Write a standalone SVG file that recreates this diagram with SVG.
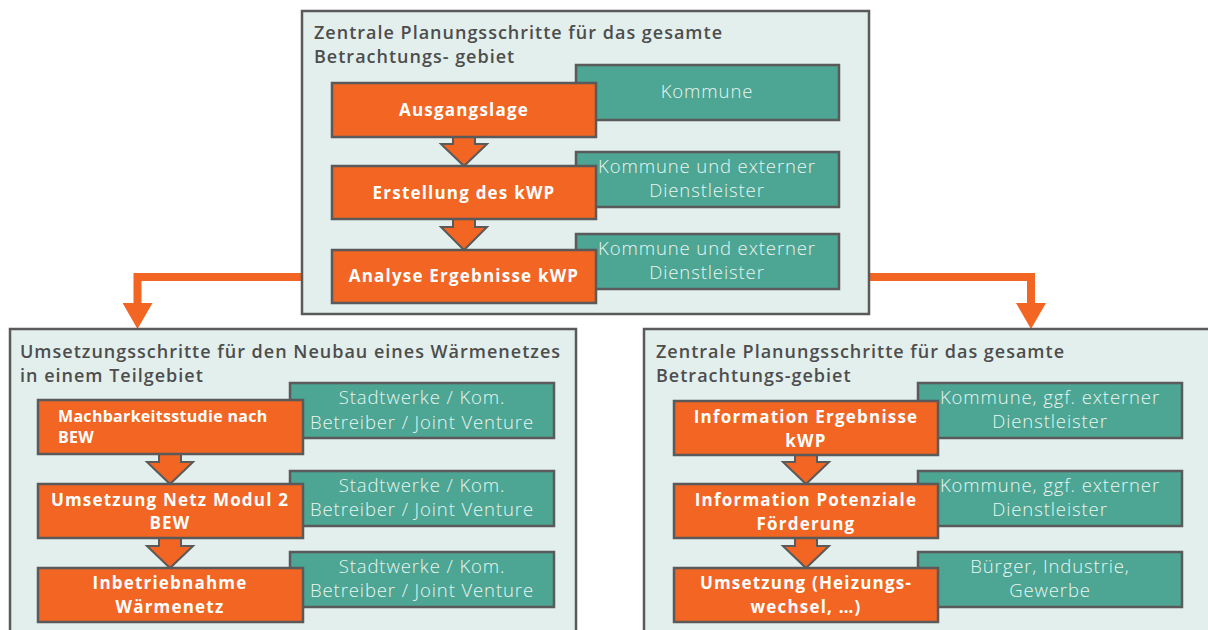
<svg xmlns="http://www.w3.org/2000/svg" width="1208" height="630" viewBox="0 0 1208 630">
<defs>
<style>
.cont{fill:#E3EFEC;stroke:#5A5A5A;stroke-width:2.5}
.step{fill:#F26522;stroke:#5A5A5A;stroke-width:2.5}
.who{fill:#4DA593;stroke:#5A5A5A;stroke-width:2.5}
.flow{fill:#F26522;stroke:#5A5A5A;stroke-width:2}
.title{font-family:"Open Sans","Noto Sans",sans-serif;font-weight:600;font-size:18px;letter-spacing:1px;fill:#4D4D4D}
.st{font-family:"Open Sans","Noto Sans",sans-serif;font-weight:700;font-size:17px;letter-spacing:1.2px;fill:#FFFFFF;text-anchor:middle}
.stl{font-family:"Open Sans","Noto Sans",sans-serif;font-weight:700;font-size:16px;letter-spacing:0.3px;fill:#FFFFFF}
.wt{font-family:"Open Sans","Noto Sans",sans-serif;font-weight:300;font-size:18.5px;letter-spacing:0.9px;fill:#EAF5F2;text-anchor:middle}
.conn{fill:none;stroke:#F26522;stroke-width:8}
</style>
<marker id="ah" markerUnits="userSpaceOnUse" markerWidth="26" markerHeight="30" viewBox="0 0 26 30" refX="1" refY="15" orient="auto">
<path d="M0,0 L26,15 L0,30 Z" fill="#F26522"/>
</marker>
</defs>

<g id="connectors">
<path class="conn" d="M303,277 H137.5 V304" marker-end="url(#ah)"/>
<path class="conn" d="M868,277 H1031 V304" marker-end="url(#ah)"/>
</g>

<g id="container-top">
<rect class="cont" x="302" y="11" width="567" height="303"/>
<text class="title" x="314" y="39">Zentrale Planungsschritte für das gesamte</text>
<text class="title" x="314" y="63">Betrachtungs- gebiet</text>
</g>
<g id="container-left">
<rect class="cont" x="10" y="329" width="566" height="312"/>
<text class="title" x="20" y="358">Umsetzungsschritte für den Neubau eines Wärmenetzes</text>
<text class="title" x="20" y="382">in einem Teilgebiet</text>
</g>
<g id="container-right">
<rect class="cont" x="644" y="329" width="572" height="312"/>
<text class="title" x="656" y="358">Zentrale Planungsschritte für das gesamte</text>
<text class="title" x="656" y="382">Betrachtungs-gebiet</text>
</g>

<!-- top column -->
<g id="who-top-1"><rect class="who" x="576" y="65" width="263" height="55"/><text class="wt" x="707" y="98">Kommune</text></g>
<g id="who-top-2"><rect class="who" x="576" y="152" width="263" height="55"/><text class="wt" x="707" y="173">Kommune und externer</text><text class="wt" x="707" y="197">Dienstleister</text></g>
<g id="who-top-3"><rect class="who" x="576" y="234" width="263" height="55"/><text class="wt" x="707" y="255">Kommune und externer</text><text class="wt" x="707" y="279">Dienstleister</text></g>
<g id="arrow-top-1"><path class="flow" d="M453,136 H475 V144 H487 L464,166 L441,144 H453 Z"/></g>
<g id="arrow-top-2"><path class="flow" d="M453,219 H475 V227 H487 L464,250 L441,227 H453 Z"/></g>
<g id="step-top-1"><rect class="step" x="332" y="83" width="264" height="54"/><text class="st" x="464" y="116">Ausgangslage</text></g>
<g id="step-top-2"><rect class="step" x="332" y="166" width="264" height="53"/><text class="st" x="464" y="199">Erstellung des kWP</text></g>
<g id="step-top-3"><rect class="step" x="332" y="250" width="264" height="53"/><text class="st" x="464" y="282">Analyse Ergebnisse kWP</text></g>

<!-- left column -->
<g id="who-left-1"><rect class="who" x="290" y="383" width="264" height="55"/><text class="wt" x="422" y="404">Stadtwerke / Kom.</text><text class="wt" x="422" y="429">Betreiber / Joint Venture</text></g>
<g id="who-left-2"><rect class="who" x="290" y="471" width="264" height="55"/><text class="wt" x="422" y="492">Stadtwerke / Kom.</text><text class="wt" x="422" y="516">Betreiber / Joint Venture</text></g>
<g id="who-left-3"><rect class="who" x="290" y="552" width="264" height="55"/><text class="wt" x="422" y="573">Stadtwerke / Kom.</text><text class="wt" x="422" y="597">Betreiber / Joint Venture</text></g>
<g id="arrow-left-1"><path class="flow" d="M159,454 H181 V462 H193 L170,484 L147,462 H159 Z"/></g>
<g id="arrow-left-2"><path class="flow" d="M159,538 H181 V546 H193 L170,568 L147,546 H159 Z"/></g>
<g id="step-left-1"><rect class="step" x="38" y="400" width="265" height="54"/><text class="stl" x="58" y="422">Machbarkeitsstudie nach</text><text class="stl" x="58" y="443">BEW</text></g>
<g id="step-left-2"><rect class="step" x="38" y="484" width="265" height="54"/><text class="st" x="170" y="506">Umsetzung Netz Modul 2</text><text class="st" x="170" y="529">BEW</text></g>
<g id="step-left-3"><rect class="step" x="38" y="568" width="265" height="54"/><text class="st" x="170" y="589">Inbetriebnahme</text><text class="st" x="170" y="613">Wärmenetz</text></g>

<!-- right column -->
<g id="who-right-1"><rect class="who" x="918" y="383" width="264" height="55"/><text class="wt" x="1050" y="404">Kommune, ggf. externer</text><text class="wt" x="1050" y="428">Dienstleister</text></g>
<g id="who-right-2"><rect class="who" x="918" y="471" width="264" height="55"/><text class="wt" x="1050" y="492">Kommune, ggf. externer</text><text class="wt" x="1050" y="516">Dienstleister</text></g>
<g id="who-right-3"><rect class="who" x="918" y="552" width="264" height="55"/><text class="wt" x="1050" y="573">Bürger, Industrie,</text><text class="wt" x="1050" y="597">Gewerbe</text></g>
<g id="arrow-right-1"><path class="flow" d="M795,455 H817 V462 H829 L806,484 L783,462 H795 Z"/></g>
<g id="arrow-right-2"><path class="flow" d="M795,538 H817 V546 H829 L806,568 L783,546 H795 Z"/></g>
<g id="step-right-1"><rect class="step" x="674" y="401" width="264" height="54"/><text class="st" x="806" y="423">Information Ergebnisse</text><text class="st" x="806" y="447">kWP</text></g>
<g id="step-right-2"><rect class="step" x="674" y="484" width="264" height="54"/><text class="st" x="806" y="506">Information Potenziale</text><text class="st" x="806" y="530">Förderung</text></g>
<g id="step-right-3"><rect class="step" x="674" y="568" width="264" height="54"/><text class="st" x="806" y="589">Umsetzung (Heizungs-</text><text class="st" x="806" y="613">wechsel, …)</text></g>
</svg>
